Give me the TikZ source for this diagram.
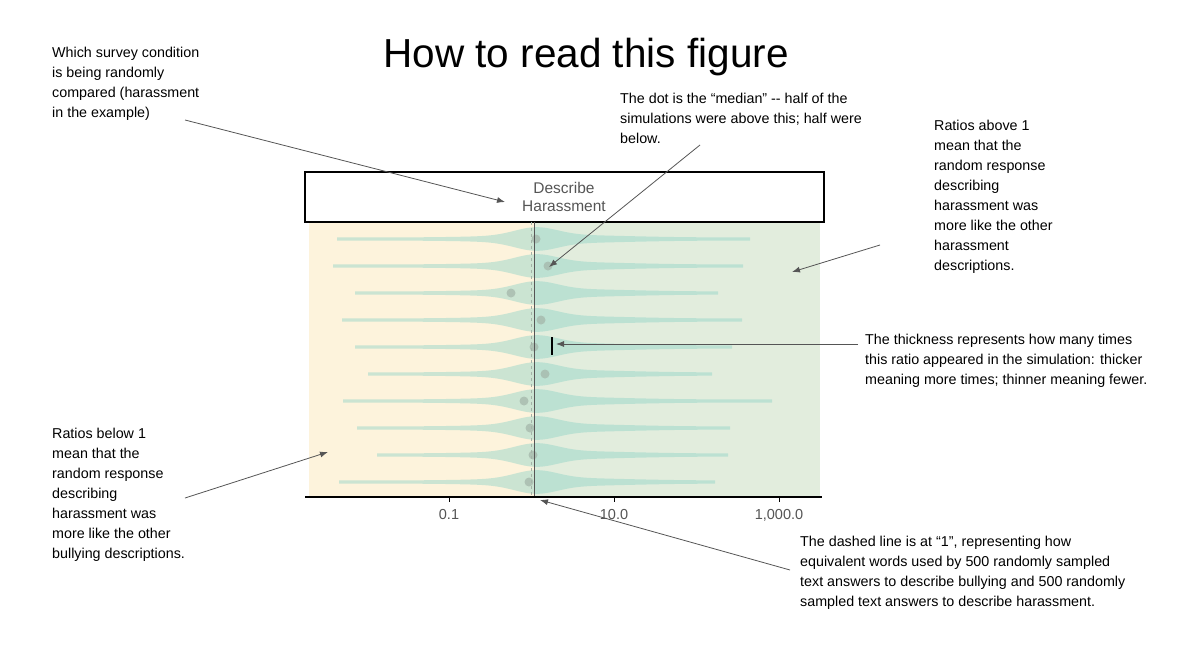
\documentclass[tikz,border=0pt]{standalone}
\usepackage{fontspec}
\setmainfont{Liberation Sans}
\usetikzlibrary{positioning,arrows.meta}
\definecolor{leftbg}{HTML}{FDF3DC}
\definecolor{rightbg}{HTML}{E2EDDD}
\definecolor{violinc}{HTML}{8FD3C6}
\definecolor{dotc}{HTML}{A3B4A8}
\definecolor{linec}{HTML}{555555}
\begin{document}
\begin{tikzpicture}[x=1pt,y=-1pt]

	\tikzstyle{note} = [anchor=north west, align=left, inner sep=0pt, font=\fontsize{14.3}{20}\selectfont]
	\tikzstyle{pointer} = [draw=linec, line width=0.8pt, -{Latex[length=8pt,width=6pt]}]
	\tikzstyle{violin} = [fill=violinc, fill opacity=0.45]
	\tikzstyle{median} = [circle, fill=dotc, inner sep=0pt, minimum size=9pt, opacity=0.7]

	\useasboundingbox (0,0) rectangle (1200,672);

%------------------------------------------------------------
	\node[font=\fontsize{40.5}{44}\selectfont] (title) at (586,57) {How to read this figure};

%------------------------------------------------------------
	\fill[leftbg] (309,222) rectangle (534,497);
	\fill[rightbg] (534,222) rectangle (820,497);
	\draw[line width=2pt] (305,172) rectangle (824,222);
	\node[align=center, text=linec, font=\fontsize{15.5}{18}\selectfont] (strip) at (564,197) {Describe\\Harassment};

	\foreach \y/\l/\r/\m in {239/337/750/536, 266/333/743/548, 293/355/718/511, 320/342/742/541,
		347/355/732/534, 374/368/712/545, 401/343/772/524, 428/357/730/530, 455/377/728/533, 482/339/715/529} {
		\fill[violin] plot[domain=\l:\r, samples=120] (\x, {\y - (1.5 + 8*exp(-((\x-536)/30)^2) + 2.5*exp(-((\x-560)/90)^2))})
			-- plot[domain=\r:\l, samples=120] (\x, {\y + (1.5 + 8*exp(-((\x-536)/30)^2) + 2.5*exp(-((\x-560)/90)^2))}) -- cycle;
		\node[median] at (\m,\y) {};
	}

	\draw[dotc, dashed, line width=1pt] (531,222) -- (531,497);
	\draw[linec, line width=1pt] (534,222) -- (534,497);
	\draw[line width=1.6pt] (552,337) -- (552,355);

	\draw[line width=1.5pt] (305,497) -- (822,497);
	\foreach \x/\t in {449/0.1, 614/10.0, 779/{1,000.0}} {
		\draw[line width=1pt] (\x,497) -- (\x,502);
		\node[text=linec, font=\fontsize{14.5}{16}\selectfont] at (\x,515) {\t};
	}

%------------------------------------------------------------
	\node[note] (condition) at (52,47) {Which survey condition\\is being randomly\\compared (harassment\\in the example)};
	\node[note] (dot) at (620,93) {The dot is the “median” {-}{-} half of the\\simulations were above this; half were\\below.};
	\node[note] (above) at (934,120) {Ratios above 1\\mean that the\\random response\\describing\\harassment was\\more like the other\\harassment\\descriptions.};
	\node[note] (thickness) at (865,334) {The thickness represents how many times\\this ratio appeared in the simulation: thicker\\meaning more times; thinner meaning fewer.};
	\node[note] (below) at (52,428) {Ratios below 1\\mean that the\\random response\\describing\\harassment was\\more like the other\\bullying descriptions.};
	\node[note] (dashed) at (800,536) {The dashed line is at “1”, representing how\\equivalent words used by 500 randomly sampled\\text answers to describe bullying and 500 randomly\\sampled text answers to describe harassment.};

%------------------------------------------------------------
	\coordinate (c0) at (185,120);  \coordinate (t0) at (505,202);
	\coordinate (c1) at (700,145);  \coordinate (t1) at (549,267);
	\coordinate (c2) at (880,245);  \coordinate (t2) at (792,272);
	\coordinate (c3) at (858,344);  \coordinate (t3) at (556,344);
	\coordinate (c4) at (185,498);  \coordinate (t4) at (328,452);
	\coordinate (c5) at (790,570);  \coordinate (t5) at (540,500);

	\foreach \i in {0,...,5} {
		\draw[pointer] (c\i) -- (t\i);
	}

\end{tikzpicture}
\end{document}
